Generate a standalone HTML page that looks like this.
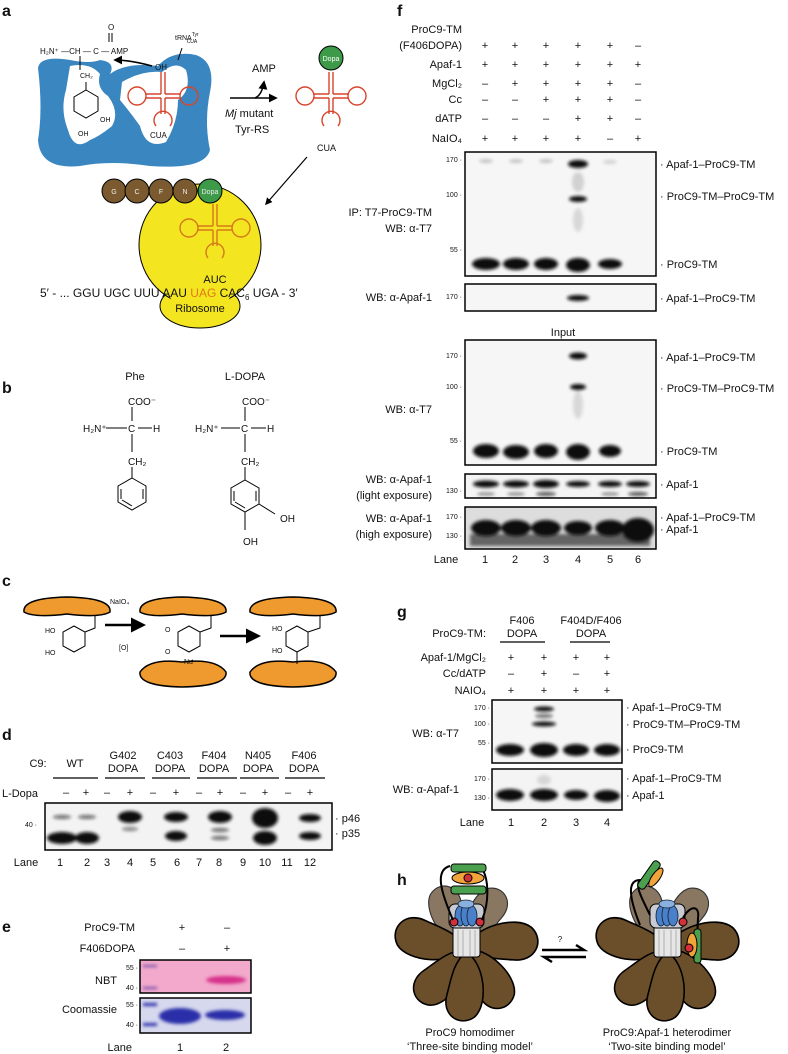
<!DOCTYPE html>
<html><head><meta charset="utf-8"><style>
html,body{margin:0;padding:0;background:#fff;}
svg{display:block;}
text{font-family:"Liberation Sans",Arial,sans-serif;fill:#111;}
.L{font-size:11px;}
.t{font-size:7px;}
.b{font-size:16px;font-weight:bold;}
.R{text-anchor:end;}
.M{text-anchor:middle;}
</style></head><body>
<svg width="788" height="1054" viewBox="0 0 788 1054" xmlns="http://www.w3.org/2000/svg">
<defs>
<filter id="bl" x="-50%" y="-100%" width="200%" height="300%"><feGaussianBlur stdDeviation="1.6"/></filter>
<filter id="bl2" x="-50%" y="-100%" width="200%" height="300%"><feGaussianBlur stdDeviation="2.5"/></filter>
<marker id="ar" viewBox="0 0 10 10" refX="8" refY="5" markerWidth="6" markerHeight="6" orient="auto"><path d="M0,0 L10,5 L0,10 z" fill="#000"/></marker>
<g id="trna" fill="none" stroke-width="1.4">
<path d="M-2,-28 V-6 M2,-28 V-6 M-2,-6 H-18 M-2,-2 H-18 M2,-6 H18 M2,-2 H18 M-2,-2 V14 M2,-2 V14"/>
<circle cx="-26" cy="-4" r="9"/><circle cx="26" cy="-4" r="9"/>
<path d="M-7,26 A9,9 0 1,1 7,26"/>
</g>
<g id="petal"><path d="M0,0 C-18,-10 -22,-50 -8,-62 C6,-72 24,-60 18,-40 C14,-25 12,-10 0,0 Z"/></g>
</defs>

<!-- PANEL A -->
<text class="b" x="2" y="16">a</text>
<path d="M38,68 Q40,55 70,60 Q90,64 100,60 Q116,62 110,74 Q126,62 158,66 Q172,50 196,55 Q216,62 210,92 Q204,122 210,150 Q205,170 150,166 Q110,160 80,166 Q40,170 38,140 Q43,110 38,68 Z" fill="#3a86c0"/>
<path d="M70,66 Q90,62 100,74 Q96,88 108,96 Q120,112 112,126 Q100,136 90,140 Q74,152 68,130 Q60,110 66,90 Z" fill="#fff"/>
<path d="M122,82 Q142,70 162,72 Q176,60 186,70 Q192,90 178,100 Q178,122 166,142 Q146,150 140,126 Q130,112 120,100 Z" fill="#fff"/>
<text x="40" y="54" style="font-size:8px">H₂N⁺ —CH — C — AMP</text>
<text x="108" y="30" style="font-size:8px">O</text>
<path d="M109,33 V42 M112,33 V42" stroke="#000"/>
<path d="M80,56 V70" stroke="#000"/>
<text x="80" y="78" style="font-size:7px">CH₂</text>
<path d="M86,82 V90" stroke="#000"/>
<polygon points="86,90 98,97 98,111 86,118 74,111 74,97" fill="none" stroke="#000"/>
<text x="100" y="122" style="font-size:7px">OH</text>
<text x="78" y="136" style="font-size:7px">OH</text>
<text x="175" y="40" style="font-size:7px">tRNA<tspan dy="-4" style="font-size:5px">Tyr</tspan><tspan dy="7" dx="-12" style="font-size:5px">CUA</tspan></text>
<path d="M182,48 L178,60" stroke="#000"/>
<text x="155" y="70" style="font-size:8px">OH</text>
<path d="M152,66 Q130,60 115,60" stroke="#000" stroke-width="1.5" fill="none" marker-end="url(#ar)"/>
<use href="#trna" x="163" y="100" stroke="#d9452b"/>
<text x="150" y="138" style="font-size:8px">CUA</text>
<path d="M230,98 H276" stroke="#000" stroke-width="1.5" marker-end="url(#ar)"/>
<path d="M255,98 Q262,95 264,82" stroke="#000" stroke-width="1.5" fill="none" marker-end="url(#ar)"/>
<text x="252" y="72" class="L">AMP</text>
<text x="225" y="117" class="L"><tspan font-style="italic">Mj</tspan> mutant</text>
<text x="235" y="133" class="L">Tyr-RS</text>
<use href="#trna" x="331" y="100" stroke="#d9452b"/>
<circle cx="331" cy="58" r="12" fill="#3c9a49" stroke="#000"/>
<text x="331" y="61" class="M" style="font-size:7px;fill:#fff">Dopa</text>
<text x="317" y="151" class="L" style="font-size:9px">CUA</text>
<path d="M307,157 L266,204" stroke="#000" stroke-width="1.2" marker-end="url(#ar)"/>
<ellipse cx="200" cy="306" rx="40" ry="22" fill="#f4e521" stroke="#000"/>
<circle cx="200" cy="245" r="61" fill="#f4e521" stroke="#000"/>
<ellipse cx="200" cy="296" rx="30" ry="12" fill="#f4e521"/>
<g stroke="#000" fill="#7a5a2e"><circle cx="114" cy="191" r="12"/><circle cx="137" cy="191" r="12"/><circle cx="161" cy="191" r="12"/><circle cx="185" cy="191" r="12"/></g>
<g class="M" style="font-size:7px"><text x="114" y="194" fill="#fff" style="fill:#eee">G</text><text x="137" y="194" style="fill:#eee">C</text><text x="161" y="194" style="fill:#eee">F</text><text x="185" y="194" style="fill:#eee">N</text></g>
<circle cx="210" cy="191" r="12" fill="#3c9a49" stroke="#000"/>
<text x="210" y="194" class="M" style="font-size:7px;fill:#eee">Dopa</text>
<use href="#trna" x="215" y="232" stroke="#d4791a"/>
<text x="215" y="283" class="M L">AUC</text>
<text x="40" y="297" class="L" style="font-size:12px">5′ - ... GGU UGC UUU AAU <tspan style="fill:#e07a14">UAG</tspan> CAC<tspan dy="3" style="font-size:8px">6</tspan><tspan dy="-3"> UGA - 3′</tspan></text>
<text x="200" y="312" class="M L">Ribosome</text>

<!-- PANEL B -->
<text class="b" x="2" y="393">b</text>
<text x="135" y="380" class="M L">Phe</text>
<text x="245" y="380" class="M L">L-DOPA</text>
<g class="L" style="font-size:10px">
<text x="128" y="405">COO⁻</text><text x="83" y="432">H₂N⁺</text><text x="128" y="432">C</text><text x="153" y="432">H</text><text x="128" y="465">CH₂</text>
<text x="242" y="405">COO⁻</text><text x="195" y="432">H₂N⁺</text><text x="241" y="432">C</text><text x="267" y="432">H</text><text x="241" y="465">CH₂</text>
<text x="280" y="522">OH</text><text x="243" y="545">OH</text></g>
<g stroke="#000" fill="none">
<path d="M132,407 V421 M106,428 H127 M138,428 H152 M132,434 V452 M132,467 V478"/>
<polygon points="132,478 146,486 146,502 132,510 118,502 118,486"/>
<path d="M121,489 V499 M143,489 V499 M132,506 L122,500"/>
<path d="M245,407 V421 M221,428 H240 M251,428 H266 M245,434 V452 M245,467 V480"/>
<polygon points="245,480 259,488 259,504 245,512 231,504 231,488"/>
<path d="M234,491 V501 M256,491 V501 M245,508 L235,502 M259,504 L275,514 M245,512 V530"/>
</g>

<!-- PANEL C -->
<text class="b" x="2" y="586">c</text>
<g fill="#ef9a2e" stroke="#000" stroke-width="1.5">
<path d="M24,612 Q22,598 67,597 Q112,598 110,612 Q100,618 67,614 Q34,618 24,612 Z"/>
<path d="M140,612 Q138,598 182,597 Q228,598 226,612 Q216,618 182,614 Q150,618 140,612 Z"/>
<path d="M250,612 Q248,598 293,597 Q338,598 336,612 Q326,618 293,614 Q260,618 250,612 Z"/>
<path d="M140,672 Q138,686 182,687 Q228,686 226,672 Q216,658 182,662 Q150,658 140,672 Z"/>
<path d="M250,672 Q248,686 293,687 Q338,686 336,672 Q326,658 293,662 Q260,658 250,672 Z"/>
</g>
<g stroke="#000" fill="none">
<path d="M95,615 V628 L85,632"/><polygon points="85,632 85,646 74,652 63,646 63,632 74,626"/>
<path d="M211,615 V628 L200,632"/><polygon points="200,632 200,646 189,652 178,646 178,632 189,626"/>
<path d="M320,615 V628 L308,632"/><polygon points="308,632 308,646 297,652 286,646 286,632 297,626"/>
<path d="M297,652 V664 M189,662 L193,660"/>
</g>
<g style="font-size:7px"><text x="45" y="633">HO</text><text x="45" y="655">HO</text><text x="165" y="632">O</text><text x="165" y="654">O</text><text x="184" y="664">Nu</text><text x="272" y="631">HO</text><text x="272" y="653">HO</text>
<text x="110" y="604">NaIO₄</text><text x="119" y="650">[O]</text></g>
<path d="M105,625 H143" stroke="#000" stroke-width="2.5" marker-end="url(#ar)"/>
<path d="M220,636 H258" stroke="#000" stroke-width="2.5" marker-end="url(#ar)"/>

<!-- PANEL D -->
<text class="b" x="2" y="740">d</text>
<g class="L M">
<text x="38" y="767">C9:</text><text x="75" y="767">WT</text>
<text x="123" y="759">G402</text><text x="123" y="772">DOPA</text>
<text x="170" y="759">C403</text><text x="170" y="772">DOPA</text>
<text x="214" y="759">F404</text><text x="214" y="772">DOPA</text>
<text x="258" y="759">N405</text><text x="258" y="772">DOPA</text>
<text x="304" y="759">F406</text><text x="304" y="772">DOPA</text>
<text x="20" y="797">L-Dopa</text></g>
<path d="M53,778 H98 M105,778 H145 M152,778 H190 M197,778 H237 M240,778 H279 M285,778 H325" stroke="#000" stroke-width="1.3"/>
<g class="L M"><text x="66" y="796">–</text><text x="86" y="796">+</text><text x="107" y="796">–</text><text x="130" y="796">+</text><text x="153" y="796">–</text><text x="176" y="796">+</text><text x="199" y="796">–</text><text x="220" y="796">+</text><text x="243" y="796">–</text><text x="265" y="796">+</text><text x="288" y="796">–</text><text x="310" y="796">+</text></g>
<rect x="45" y="803" width="287" height="47" fill="#f3f3f3"/>
<g fill="#111" filter="url(#bl)">
<ellipse cx="62" cy="838" rx="15" ry="6"/><ellipse cx="87" cy="838" rx="12" ry="6"/>
<ellipse cx="62" cy="817" rx="9" ry="2" opacity=".6"/><ellipse cx="87" cy="817" rx="9" ry="2" opacity=".6"/>
<ellipse cx="130" cy="817" rx="12" ry="6"/><ellipse cx="130" cy="829" rx="8" ry="2" opacity=".5"/>
<ellipse cx="176" cy="817" rx="12" ry="5"/><ellipse cx="176" cy="836" rx="11" ry="5"/>
<ellipse cx="220" cy="817" rx="12" ry="6"/><ellipse cx="220" cy="830" rx="9" ry="2" opacity=".6"/><ellipse cx="220" cy="838" rx="9" ry="2" opacity=".6"/>
<ellipse cx="265" cy="818" rx="13" ry="10"/><ellipse cx="265" cy="838" rx="12" ry="7"/>
<ellipse cx="310" cy="818" rx="11" ry="4"/><ellipse cx="310" cy="836" rx="11" ry="4"/>
</g>
<rect x="45" y="803" width="287" height="47" fill="none" stroke="#000" stroke-width="1.5"/>
<text x="37" y="827" class="t R">40 ·</text>
<text x="335" y="822" class="L">· p46</text><text x="335" y="837" class="L">· p35</text>
<g class="L M"><text x="26" y="866">Lane</text><text x="60" y="866">1</text><text x="87" y="866">2</text><text x="107" y="866">3</text><text x="130" y="866">4</text><text x="153" y="866">5</text><text x="177" y="866">6</text><text x="199" y="866">7</text><text x="219" y="866">8</text><text x="243" y="866">9</text><text x="265" y="866">10</text><text x="287" y="866">11</text><text x="310" y="866">12</text></g>

<!-- PANEL E -->
<text class="b" x="2" y="932">e</text>
<g class="L"><text x="135" y="931" class="R">ProC9-TM</text><text x="135" y="952" class="R">F406DOPA</text>
<text x="182" y="931" class="M">+</text><text x="227" y="931" class="M">–</text><text x="182" y="952" class="M">–</text><text x="227" y="952" class="M">+</text>
<text x="117" y="984" class="R">NBT</text><text x="117" y="1013" class="R">Coomassie</text>
<text x="132" y="1051" class="R">Lane</text><text x="180" y="1051" class="M">1</text><text x="226" y="1051" class="M">2</text></g>
<rect x="140" y="960" width="111" height="33" fill="#f2a9cb"/>
<g filter="url(#bl)"><ellipse cx="226" cy="980" rx="20" ry="4" fill="#d6308a"/><rect x="143" y="965" width="14" height="2" fill="#6a4aa8"/><rect x="143" y="987" width="14" height="2" fill="#6a4aa8"/></g>
<rect x="140" y="960" width="111" height="33" fill="none" stroke="#000" stroke-width="1.5"/>
<rect x="140" y="998" width="111" height="35" fill="#d6d8ee"/>
<g filter="url(#bl)" fill="#2a2fa8"><ellipse cx="180" cy="1016" rx="21" ry="8"/><ellipse cx="225" cy="1015" rx="20" ry="5"/><rect x="143" y="1003" width="14" height="3"/><rect x="143" y="1023" width="14" height="3"/></g>
<rect x="140" y="998" width="111" height="35" fill="none" stroke="#000" stroke-width="1.5"/>
<g class="t R"><text x="138" y="970">55 ·</text><text x="138" y="990">40 ·</text><text x="138" y="1007">55 ·</text><text x="138" y="1027">40 ·</text></g>

<!-- PANEL F -->
<text class="b" x="397" y="16">f</text>
<g class="L R"><text x="462" y="33">ProC9-TM</text><text x="462" y="49">(F406DOPA)</text><text x="462" y="68">Apaf-1</text><text x="462" y="87">MgCl₂</text><text x="462" y="103">Cc</text><text x="462" y="122">dATP</text><text x="462" y="142">NaIO₄</text></g>
<g class="L M">
<text x="485" y="49">+</text><text x="515" y="49">+</text><text x="546" y="49">+</text><text x="578" y="49">+</text><text x="610" y="49">+</text><text x="638" y="49">–</text>
<text x="485" y="68">+</text><text x="515" y="68">+</text><text x="546" y="68">+</text><text x="578" y="68">+</text><text x="610" y="68">+</text><text x="638" y="68">+</text>
<text x="485" y="87">–</text><text x="515" y="87">+</text><text x="546" y="87">+</text><text x="578" y="87">+</text><text x="610" y="87">+</text><text x="638" y="87">–</text>
<text x="485" y="103">–</text><text x="515" y="103">–</text><text x="546" y="103">+</text><text x="578" y="103">+</text><text x="610" y="103">+</text><text x="638" y="103">–</text>
<text x="485" y="122">–</text><text x="515" y="122">–</text><text x="546" y="122">–</text><text x="578" y="122">+</text><text x="610" y="122">+</text><text x="638" y="122">–</text>
<text x="485" y="142">+</text><text x="515" y="142">+</text><text x="546" y="142">+</text><text x="578" y="142">+</text><text x="610" y="142">–</text><text x="638" y="142">+</text>
</g>
<!-- gel1 -->
<rect x="465" y="152" width="191" height="124" fill="#f6f6f6"/>
<g fill="#111" filter="url(#bl)">
<ellipse cx="486" cy="264" rx="14" ry="6"/><ellipse cx="516" cy="264" rx="13" ry="6"/><ellipse cx="546" cy="264" rx="12" ry="6"/><ellipse cx="578" cy="265" rx="12" ry="7"/><ellipse cx="610" cy="264" rx="12" ry="5"/>
<ellipse cx="578" cy="164" rx="10" ry="4"/><ellipse cx="578" cy="199" rx="9" ry="3"/>
<ellipse cx="578" cy="182" rx="6" ry="10" opacity=".15"/><ellipse cx="578" cy="220" rx="5" ry="12" opacity=".12"/>
<ellipse cx="486" cy="161" rx="7" ry="2" opacity=".2"/><ellipse cx="516" cy="161" rx="7" ry="2" opacity=".2"/><ellipse cx="546" cy="161" rx="7" ry="2" opacity=".2"/><ellipse cx="610" cy="162" rx="7" ry="2" opacity=".15"/>
</g>
<rect x="465" y="152" width="191" height="124" fill="none" stroke="#000" stroke-width="1.5"/>
<g class="t R"><text x="462" y="162">170 ·</text><text x="462" y="197">100 ·</text><text x="462" y="252">55 ·</text></g>
<g class="L"><text x="660" y="168">· Apaf-1–ProC9-TM</text><text x="660" y="200">· ProC9-TM–ProC9-TM</text><text x="660" y="268">· ProC9-TM</text></g>
<g class="L R"><text x="432" y="216">IP: T7-ProC9-TM</text><text x="432" y="232">WB: α-T7</text><text x="432" y="301">WB: α-Apaf-1</text></g>
<!-- gel2 -->
<rect x="465" y="284" width="191" height="27" fill="#f6f6f6"/>
<ellipse cx="578" cy="298" rx="11" ry="3" fill="#111" filter="url(#bl)"/>
<rect x="465" y="284" width="191" height="27" fill="none" stroke="#000" stroke-width="1.5"/>
<text x="462" y="299" class="t R">170 ·</text>
<text x="660" y="302" class="L">· Apaf-1–ProC9-TM</text>
<text x="563" y="336" class="L M">Input</text>
<!-- gel3 -->
<rect x="465" y="340" width="191" height="125" fill="#f6f6f6"/>
<g fill="#111" filter="url(#bl)">
<ellipse cx="486" cy="451" rx="13" ry="7"/><ellipse cx="516" cy="452" rx="13" ry="7"/><ellipse cx="546" cy="451" rx="12" ry="7"/><ellipse cx="578" cy="452" rx="12" ry="8"/><ellipse cx="610" cy="451" rx="11" ry="6"/>
<ellipse cx="578" cy="356" rx="9" ry="3.5"/><ellipse cx="578" cy="387" rx="8" ry="3"/>
<ellipse cx="578" cy="405" rx="5" ry="14" opacity=".12"/>
</g>
<rect x="465" y="340" width="191" height="125" fill="none" stroke="#000" stroke-width="1.5"/>
<g class="t R"><text x="462" y="358">170 ·</text><text x="462" y="389">100 ·</text><text x="462" y="443">55 ·</text></g>
<g class="L"><text x="660" y="361">· Apaf-1–ProC9-TM</text><text x="660" y="392">· ProC9-TM–ProC9-TM</text><text x="660" y="455">· ProC9-TM</text></g>
<text x="432" y="413" class="L R">WB: α-T7</text>
<!-- gel4 -->
<rect x="465" y="474" width="191" height="24" fill="#f4f4f4"/>
<g fill="#111" filter="url(#bl)">
<ellipse cx="486" cy="484" rx="13" ry="3.5"/><ellipse cx="516" cy="484" rx="13" ry="3.5"/><ellipse cx="546" cy="484" rx="13" ry="4"/><ellipse cx="578" cy="484" rx="12" ry="3"/><ellipse cx="610" cy="484" rx="12" ry="3"/><ellipse cx="638" cy="484" rx="12" ry="3"/>
<ellipse cx="486" cy="494" rx="9" ry="1.5" opacity=".5"/><ellipse cx="516" cy="494" rx="9" ry="1.5" opacity=".5"/><ellipse cx="546" cy="494" rx="10" ry="2" opacity=".7"/><ellipse cx="610" cy="494" rx="9" ry="1.5" opacity=".5"/><ellipse cx="638" cy="494" rx="10" ry="2" opacity=".7"/>
</g>
<rect x="465" y="474" width="191" height="24" fill="none" stroke="#000" stroke-width="1.5"/>
<text x="462" y="493" class="t R">130 ·</text>
<text x="660" y="488" class="L">· Apaf-1</text>
<g class="L R"><text x="432" y="483">WB: α-Apaf-1</text><text x="432" y="499">(light exposure)</text><text x="432" y="522">WB: α-Apaf-1</text><text x="432" y="538">(high exposure)</text></g>
<!-- gel5 -->
<rect x="465" y="507" width="191" height="42" fill="#ddd"/>
<g fill="#0a0a0a" filter="url(#bl)">
<ellipse cx="486" cy="528" rx="15" ry="8"/><ellipse cx="516" cy="528" rx="15" ry="8"/><ellipse cx="546" cy="528" rx="15" ry="8"/><ellipse cx="578" cy="528" rx="14" ry="7"/><ellipse cx="610" cy="528" rx="15" ry="8"/><ellipse cx="638" cy="530" rx="16" ry="12"/>
<rect x="470" y="534" width="180" height="12" opacity=".55"/>
</g>
<rect x="465" y="507" width="191" height="42" fill="none" stroke="#000" stroke-width="1.5"/>
<g class="t R"><text x="462" y="519">170 ·</text><text x="462" y="538">130 ·</text></g>
<g class="L"><text x="660" y="521">· Apaf-1–ProC9-TM</text><text x="660" y="533">· Apaf-1</text></g>
<g class="L M"><text x="446" y="563">Lane</text><text x="485" y="563">1</text><text x="515" y="563">2</text><text x="546" y="563">3</text><text x="578" y="563">4</text><text x="610" y="563">5</text><text x="638" y="563">6</text></g>

<!-- PANEL G -->
<text class="b" x="397" y="617">g</text>
<g class="L">
<text x="486" y="637" class="R">ProC9-TM:</text>
<text x="522" y="624" class="M">F406</text><text x="522" y="637" class="M">DOPA</text>
<text x="591" y="624" class="M">F404D/F406</text><text x="591" y="637" class="M">DOPA</text>
<text x="486" y="661" class="R">Apaf-1/MgCl₂</text><text x="486" y="677" class="R">Cc/dATP</text><text x="486" y="694" class="R">NAIO₄</text>
<text x="511" y="661" class="M">+</text><text x="544" y="661" class="M">+</text><text x="576" y="661" class="M">+</text><text x="607" y="661" class="M">+</text>
<text x="511" y="677" class="M">–</text><text x="544" y="677" class="M">+</text><text x="576" y="677" class="M">–</text><text x="607" y="677" class="M">+</text>
<text x="511" y="694" class="M">+</text><text x="544" y="694" class="M">+</text><text x="576" y="694" class="M">+</text><text x="607" y="694" class="M">+</text>
</g>
<path d="M500,642 H545 M570,642 H610" stroke="#000" stroke-width="1.3"/>
<rect x="492" y="700" width="130" height="63" fill="#f6f6f6"/>
<g fill="#111" filter="url(#bl)">
<ellipse cx="510" cy="750" rx="14" ry="6"/><ellipse cx="544" cy="750" rx="14" ry="7"/><ellipse cx="576" cy="750" rx="13" ry="6"/><ellipse cx="607" cy="750" rx="13" ry="6"/>
<ellipse cx="544" cy="709" rx="10" ry="2.5"/><ellipse cx="544" cy="716" rx="9" ry="2" opacity=".6"/><ellipse cx="544" cy="724" rx="12" ry="2.5"/>
</g>
<rect x="492" y="700" width="130" height="63" fill="none" stroke="#000" stroke-width="1.5"/>
<g class="t R"><text x="490" y="710">170 ·</text><text x="490" y="726">100 ·</text><text x="490" y="745">55 ·</text></g>
<g class="L"><text x="626" y="711">· Apaf-1–ProC9-TM</text><text x="626" y="728">· ProC9-TM–ProC9-TM</text><text x="626" y="753">· ProC9-TM</text></g>
<text x="459" y="737" class="L R">WB: α-T7</text>
<rect x="492" y="769" width="130" height="41" fill="#f4f4f4"/>
<g fill="#111" filter="url(#bl)">
<ellipse cx="510" cy="795" rx="14" ry="6"/><ellipse cx="544" cy="795" rx="14" ry="6"/><ellipse cx="576" cy="795" rx="12" ry="5"/><ellipse cx="607" cy="796" rx="13" ry="6"/>
<ellipse cx="544" cy="780" rx="7" ry="5" opacity=".12"/>
</g>
<rect x="492" y="769" width="130" height="41" fill="none" stroke="#000" stroke-width="1.5"/>
<g class="t R"><text x="490" y="781">170 ·</text><text x="490" y="800">130 ·</text></g>
<g class="L"><text x="626" y="782">· Apaf-1–ProC9-TM</text><text x="626" y="799">· Apaf-1</text></g>
<text x="459" y="793" class="L R">WB: α-Apaf-1</text>
<g class="L M"><text x="472" y="826">Lane</text><text x="511" y="826">1</text><text x="544" y="826">2</text><text x="576" y="826">3</text><text x="607" y="826">4</text></g>

<!-- PANEL H -->
<text class="b" x="397" y="885">h</text>
<g id="flowerL">
<g fill="#8a7761" stroke="#333" stroke-width="1.2">
<use href="#petal" transform="translate(462,945) rotate(-25) scale(0.95)"/>
<use href="#petal" transform="translate(470,945) rotate(25) scale(0.95)"/>
</g>
<g fill="#6b4e2a" stroke="#000" stroke-width="1.5">
<use href="#petal" transform="translate(466,948) rotate(-80) scale(1.1)"/>
<use href="#petal" transform="translate(466,948) rotate(80) scale(1.1)"/>
<use href="#petal" transform="translate(466,950) rotate(-140) scale(1.05)"/>
<use href="#petal" transform="translate(466,950) rotate(140) scale(1.05)"/>
<use href="#petal" transform="translate(466,952) rotate(180) scale(1.05)"/>
</g>
<rect x="453" y="925" width="27" height="32" rx="3" fill="#e6e6e6" stroke="#000"/>
<path d="M458,930 V956 M463,930 V956 M470,930 V956 M475,930 V956" stroke="#888" stroke-width=".6"/>
<rect x="449" y="904" width="35" height="24" rx="6" fill="#c8cbd4" stroke="#000"/>
<g fill="#4a7fc9" stroke="#123" stroke-width=".8"><ellipse cx="460" cy="916" rx="5" ry="10"/><ellipse cx="466" cy="915" rx="5" ry="11"/><ellipse cx="472" cy="916" rx="5" ry="10"/><ellipse cx="466" cy="904" rx="8" ry="4" fill="#8ab0e0"/></g>
<circle cx="454" cy="922" r="4" fill="#d2303a" stroke="#000"/><circle cx="480" cy="922" r="4" fill="#d2303a" stroke="#000"/>
<path d="M453,920 C440,890 435,870 450,866 M482,920 C490,900 488,880 483,870" stroke="#000" stroke-width="2" fill="none"/>
<rect x="451" y="864" width="35" height="8" rx="3" fill="#4aa04e" stroke="#000"/>
<ellipse cx="468" cy="878" rx="16" ry="6" fill="#f0a43a" stroke="#000"/>
<circle cx="468" cy="878" r="4" fill="#d2303a" stroke="#000"/>
<rect x="451" y="886" width="35" height="8" rx="3" fill="#4aa04e" stroke="#000"/>
</g>
<g>
<g fill="#8a7761" stroke="#333" stroke-width="1.2">
<use href="#petal" transform="translate(663,945) rotate(-25) scale(0.95)"/>
<use href="#petal" transform="translate(671,945) rotate(25) scale(0.95)"/>
</g>
<g fill="#6b4e2a" stroke="#000" stroke-width="1.5">
<use href="#petal" transform="translate(667,948) rotate(-80) scale(1.1)"/>
<use href="#petal" transform="translate(667,948) rotate(80) scale(1.1)"/>
<use href="#petal" transform="translate(667,950) rotate(-140) scale(1.05)"/>
<use href="#petal" transform="translate(667,950) rotate(140) scale(1.05)"/>
<use href="#petal" transform="translate(667,952) rotate(180) scale(1.05)"/>
</g>
<rect x="654" y="925" width="27" height="32" rx="3" fill="#e6e6e6" stroke="#000"/>
<path d="M659,930 V956 M664,930 V956 M671,930 V956 M676,930 V956" stroke="#888" stroke-width=".6"/>
<rect x="650" y="904" width="35" height="24" rx="6" fill="#c8cbd4" stroke="#000"/>
<g fill="#4a7fc9" stroke="#123" stroke-width=".8"><ellipse cx="661" cy="916" rx="5" ry="10"/><ellipse cx="667" cy="915" rx="5" ry="11"/><ellipse cx="673" cy="916" rx="5" ry="10"/><ellipse cx="667" cy="904" rx="8" ry="4" fill="#8ab0e0"/></g>
<circle cx="683" cy="922" r="4" fill="#d2303a" stroke="#000"/>
<path d="M650,915 C640,895 635,885 640,880 C630,880 626,890 640,925 M683,918 C690,905 700,905 698,918 L696,960" stroke="#000" stroke-width="2" fill="none"/>
<g transform="translate(649,875) rotate(-55)"><rect x="-16" y="-4" width="32" height="8" rx="3" fill="#4aa04e" stroke="#000"/><ellipse cx="2" cy="7" rx="11" ry="4" fill="#f0a43a" stroke="#000"/></g>
<g transform="translate(692,945)"><rect x="2" y="-16" width="7" height="34" rx="3" fill="#4aa04e" stroke="#000"/><ellipse cx="0" cy="0" rx="5" ry="12" fill="#f0a43a" stroke="#000"/><circle cx="-3" cy="3" r="4" fill="#d2303a" stroke="#000"/></g>
</g>
<text x="560" y="942" class="M" style="font-size:8px">?</text>
<path d="M542,950 H584 L576,945 M586,957 H544 L552,962" stroke="#000" stroke-width="2.5" fill="none"/>
<g class="L M"><text x="470" y="1036">ProC9 homodimer</text><text x="470" y="1050">‘Three-site binding model’</text>
<text x="667" y="1036">ProC9:Apaf-1 heterodimer</text><text x="667" y="1050">‘Two-site binding model’</text></g>
</svg>
</body></html>
